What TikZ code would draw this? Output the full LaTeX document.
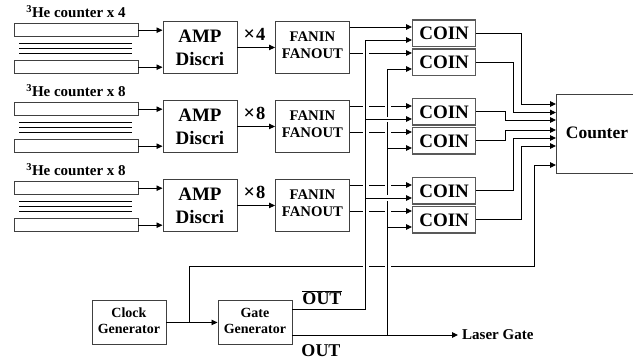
\documentclass[tikz,border=0pt]{standalone}
\usepackage{fontspec}
\setmainfont{Liberation Serif}
\usetikzlibrary{arrows.meta,calc}
\tikzset{
  fs/.style={font=\bfseries\fontsize{#1}{#1}\selectfont},
  box/.style={draw=black!75,line width=0.9pt,inner sep=0pt,anchor=north west,align=center},
  bar/.style={box,minimum width=124pt,minimum height=13.5pt},
  amp/.style={box,minimum width=74pt,minimum height=52pt,fs=19,text depth=0pt},
  fan/.style={box,minimum width=74pt,minimum height=52pt,fs=14.7,text depth=5pt},
  coin/.style={draw=black!65,line width=1.2pt,inner sep=0pt,anchor=north west,minimum width=63pt,minimum height=26.5pt,fs=19},
  gen/.style={box,minimum width=74pt,minimum height=44pt,fs=14,text depth=4pt},
  lbl/.style={inner sep=0pt,fs=15},
  wire/.style={line width=0.9pt,black},
  arr/.style={wire,-{Triangle[length=6pt,width=5.5pt]}},
}
\begin{document}
\begin{tikzpicture}[x=1pt,y=-1pt]
\useasboundingbox (0,0) rectangle (633,363);
\foreach \g/\o/\n in {1/0/4,2/79/8,3/158/8}{
  \node[lbl] (he\g) at (76,12+\o) {\textsuperscript{3}He counter x \n};
  \node[bar] (top\g) at (13.5,23+\o) {};
  \node[bar] (bot\g) at (13.5,60+\o) {};
  \foreach \yy in {43.5,48.5,53.5}
    \draw[line width=0.8pt] (19,\yy+\o) -- (132,\yy+\o);
  \node[amp] (amp\g) at (162.5,21+\o) {AMP\\[4pt]Discri};
  \node[fan] (fan\g) at (275,21+\o) {FANIN\\[2.5pt]FANOUT};
  \node[fs=19,inner sep=0pt] (mul\g) at (254.5,34+\o) {\fontsize{20}{20}\selectfont ×\hspace{1pt}\fontsize{18.5}{18.5}\selectfont\n};
  \draw[arr] (top\g.east) -- (top\g.east -| amp\g.west);
  \draw[arr] (bot\g.east) -- (bot\g.east -| amp\g.west);
  \draw[arr] (amp\g.east) -- (amp\g.east -| fan\g.west);
}
\node[coin] (c1) at (412,19.5) {COIN};
\node[coin] (c2) at (412,48.5) {COIN};
\node[coin] (c3) at (412,98) {COIN};
\node[coin] (c4) at (412,127) {COIN};
\node[coin] (c5) at (412,177) {COIN};
\node[coin] (c6) at (412,206) {COIN};
\coordinate (cnt) at (556,134);
\draw[draw=black!75,line width=0.9pt] (633,94.5) -- (556,94.5) -- (556,173) -- (633,173);
\node[inner sep=0pt,fs=17.5] (cntlabel) at (597,133) {Counter};
\node[gen] (clk) at (91.5,300) {Clock\\[2pt]Generator};
\node[gen] (gate) at (217.5,300) {Gate\\[2pt]Generator};
\node[lbl,anchor=west] (laser) at (462,335) {Laser Gate};
\node[inner sep=0pt,fs=18] (outbar) at (322,298) {$\overline{\mbox{OUT}}$};
\node[inner sep=0pt,fs=18] (outp) at (321,351) {OUT};
% vertical buses and their bottoms
\coordinate (n) at (365,309);
\coordinate (p) at (387,335);
\draw[wire] (gate.east |- n) -- (n) -- (365,40);
\draw[wire] (gate.east |- p) -- (p);
\draw[arr,shorten >=4pt] (p) -- (laser.west);
\draw[wire] (p) -- (387,201) (387,195) -- (387,122) (387,117) -- (387,69);
% gated inputs to the COIN boxes
\draw[arr] (fan1.east |- 0,27) -- (c1.west |- 0,27);
\draw[arr] (365,40) -- (c1.west |- 0,40);
\draw[wire] (fan1.east |- 0,53) -- (363,53);
\draw[arr] (369,53) -- (c2.west |- 0,53);
\draw[arr] (387,69) -- (c2.west |- 0,69);
\foreach \o/\a/\b/\f in {0/c3/c4/fan2,79/c5/c6/fan3}{
  \draw[wire] (\f.east |- 0,106+\o) -- (363,106+\o) (369,106+\o) -- (385,106+\o);
  \draw[arr] (391,106+\o) -- (\a.west |- 0,106+\o);
  \draw[arr] (365,119+\o) -- (\a.west |- 0,119+\o);
  \draw[wire] (\f.east |- 0,132+\o) -- (363,132+\o) (369,132+\o) -- (385,132+\o);
  \draw[arr] (391,132+\o) -- (\b.west |- 0,132+\o);
  \draw[arr] (387,148+\o) -- (\b.west |- 0,148+\o);
}
% outputs to the counter
\draw[arr] (c1.east) -| (521.5,104) -- (cnt |- 0,104);
\draw[arr] (c2.east) -| (513.5,112.5) -- (cnt |- 0,112.5);
\draw[arr] (c3.east) -| (505,120) -- (cnt |- 0,120);
\draw[arr] (c4.east) -| (505,130) -- (cnt |- 0,130);
\draw[arr] (c5.east) -| (513.5,138) -- (cnt |- 0,138);
\draw[arr] (c6.east) -| (521.5,146) -- (cnt |- 0,146);
% clock
\draw[arr] (clk.east) -- (gate.west);
\draw[wire] (clk.east -| 189,0) -- (189,266.5) -- (363,266.5) (369,266.5) -- (385,266.5);
\draw[arr] (391,266.5) -- (534.5,266.5) -- (534.5,165) -- (cnt |- 0,165);
\end{tikzpicture}
\end{document}
